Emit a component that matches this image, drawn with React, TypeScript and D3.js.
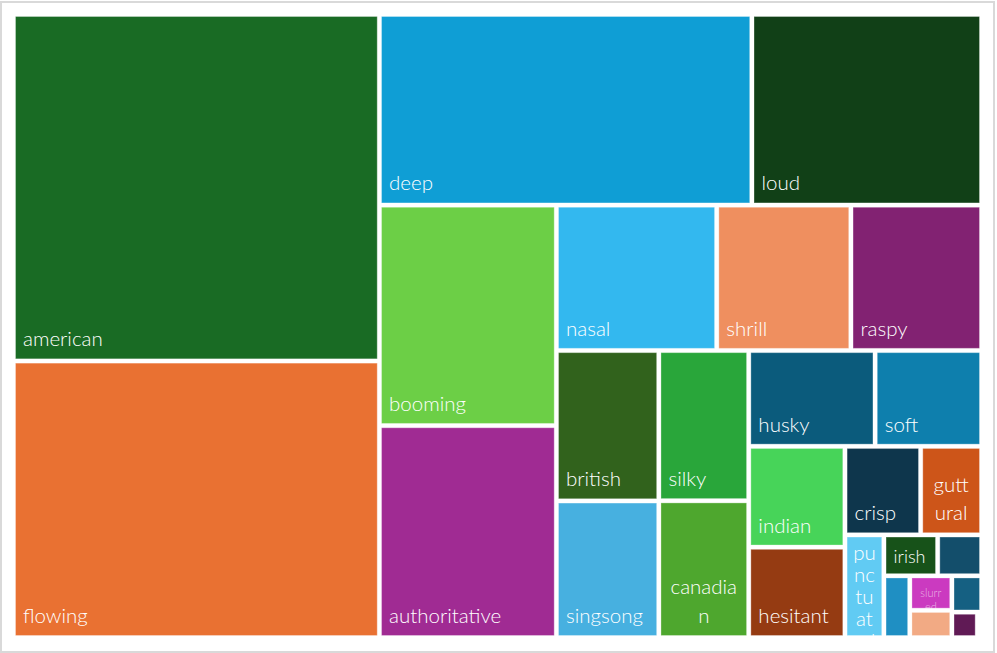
import React, { useMemo } from "react";
import * as d3 from "d3";

// ---- data ----
const categories = [
  "american", "flowing", "deep", "loud", "booming", "authoritative", "nasal", "shrill", "raspy",
  "british", "singsong", "silky", "canadian", "husky", "soft", "indian", "hesitant", "crisp",
  "guttural", "punctuated", "irish", "scottish", "gravelly", "slurred", "breathy", "monotone",
  "whiny", "lisping",
];
const counts = [
  1268, 1012, 710, 438, 390, 375, 233, 195, 190,
  154, 140, 135, 123, 121, 102, 97, 87, 67,
  54, 40, 22, 18, 16, 14.5, 11.5, 10.8,
  6.5, 1.1,
];
const colors = [
  "#196b24", "#e97132", "#0f9ed5", "#114017", "#6ccf46", "#a02b93", "#33b8ef", "#ef8f5f", "#822272",
  "#31621c", "#47b0e0", "#29a63a", "#4ea72e", "#0b5b7c", "#0e7fad", "#47d459", "#953b12", "#0e364c",
  "#cd5519", "#61cbf3", "#175219", "#134e6b", "#1f8fc3", "#cb3ac0", "#f2aa84", "#156082",
  "#601a55", "#a9d79a",
];
const unlabeled = ["scottish", "gravelly", "breathy", "monotone", "whiny", "lisping"];

// squarified tiling with a free aspect-ratio target
function squarifyRatio(ratio: number) {
  return (parent: any, x0: number, y0: number, x1: number, y1: number) => {
    const nodes = parent.children;
    let value = parent.value;
    let i0 = 0, i1 = 0;
    const n = nodes.length;
    while (i0 < n) {
      const dx = x1 - x0, dy = y1 - y0;
      let sumValue = 0;
      do sumValue = nodes[i1++].value; while (!sumValue && i1 < n);
      let minValue = sumValue, maxValue = sumValue;
      const alpha = Math.max(dy / dx, dx / dy) / (value * ratio);
      let beta = sumValue * sumValue * alpha;
      let minRatio = Math.max(maxValue / beta, beta / minValue);
      for (; i1 < n; ++i1) {
        const nv = nodes[i1].value;
        sumValue += nv;
        const mn = Math.min(minValue, nv), mx = Math.max(maxValue, nv);
        beta = sumValue * sumValue * alpha;
        const newRatio = Math.max(mx / beta, beta / mn);
        if (newRatio > minRatio) { sumValue -= nv; break; }
        minValue = mn; maxValue = mx;
        minRatio = newRatio;
      }
      const row = { children: nodes.slice(i0, i1), value: sumValue };
      if (dx < dy) {
        const yy = value ? y0 + (dy * sumValue) / value : y1;
        d3.treemapDice(row as any, x0, y0, x1, yy);
        y0 = yy;
      } else {
        const xx = value ? x0 + (dx * sumValue) / value : x1;
        d3.treemapSlice(row as any, x0, y0, xx, y1);
        x0 = xx;
      }
      value -= sumValue;
      i0 = i1;
    }
  };
}

const FONT = "Lato, 'Open Sans', sans-serif";
let ctx: CanvasRenderingContext2D | null = null;
function measure(text: string, size: number) {
  if (!ctx) ctx = document.createElement("canvas").getContext("2d");
  if (!ctx) return text.length * size * 0.5;
  ctx.font = `300 ${size}px Lato`;
  return ctx.measureText(text).width;
}
function wrapChars(text: string, size: number, avail: number): string[] {
  if (measure(text, size) <= avail) return [text];
  const lines: string[] = [];
  let cur = "";
  for (const ch of text) {
    if (cur && measure(cur + ch, size) > avail) { lines.push(cur); cur = ch; }
    else cur += ch;
  }
  if (cur) lines.push(cur);
  return lines;
}

export default function App() {
  const W = 965, H = 620, X0 = 15, Y0 = 16;
  const leaves = useMemo(() => {
    const data = categories.map((name, i) => ({ name, value: counts[i], color: colors[i] }));
    const root = d3
      .hierarchy({ name: "root", children: data } as any)
      .sum((d: any) => d.value ?? 0)
      .sort((a, b) => (b.value ?? 0) - (a.value ?? 0));
    d3.treemap().size([W, H]).paddingInner(3.3).tile(squarifyRatio(0.78) as any)(root);
    return root.leaves() as any[];
  }, []);

  return (
    <svg width={997} height={653} style={{ position: "absolute", left: 0, top: 0 }} fontFamily={FONT}>
      <rect x={1} y={2} width={993} height={650} fill="#fff" stroke="#d9d9d9" strokeWidth={2} />
      <defs>
        {leaves.map((l, i) => (
          <clipPath id={`clip${i}`} key={i}>
            <rect x={l.x0} y={l.y0} width={l.x1 - l.x0} height={l.y1 - l.y0} />
          </clipPath>
        ))}
      </defs>
      <g transform={`translate(${X0},${Y0})`}>
        {leaves.map((l, i) => {
          const w = l.x1 - l.x0, h = l.y1 - l.y0;
          const name = l.data.name as string;
          let label: React.ReactNode = null;
          if (!unlabeled.includes(name)) {
            const small = h < 34;
            const fs = small ? 11 : Math.min(20.5, h * 0.48);
            const avail = w - (small ? 16 : 12);
            const lines = wrapChars(name, fs, avail);
            const multi = lines.length > 1;
            const fitLh = fs * 1.4;
            const bottomOff = Math.min(13, h * 0.29);
            const fits = !small && lines.length * fitLh + 12 <= h;
            const lh = fits ? fitLh : small ? fs * 1.3 : fs * 1.07;
            const top = small ? fs * 1.75 : fs * 1.15;
            const baselines = lines.map((_, k) =>
              fits ? l.y1 - bottomOff - (lines.length - 1 - k) * lh : l.y0 + top + k * lh
            );
            label = (
              <g clipPath={`url(#clip${i})`}>
                {lines.map((t, k) => (
                  <text
                    key={k}
                    x={multi ? (l.x0 + l.x1) / 2 : l.x0 + 8}
                    y={baselines[k]}
                    textAnchor={multi ? "middle" : "start"}
                    fontSize={fs}
                    fontWeight={300}
                    fill="#ffffff"
                    fillOpacity={small ? 0.6 : 1}
                  >
                    {t}
                  </text>
                ))}
              </g>
            );
          }
          return (
            <g key={i}>
              <rect
                x={l.x0 + 0.5}
                y={l.y0 + 0.5}
                width={Math.max(0, w - 1)}
                height={Math.max(0, h - 1)}
                fill={l.data.color}
                stroke="rgba(255,255,255,0.3)"
                strokeWidth={1}
              />
              {label}
            </g>
          );
        })}
      </g>
    </svg>
  );
}
